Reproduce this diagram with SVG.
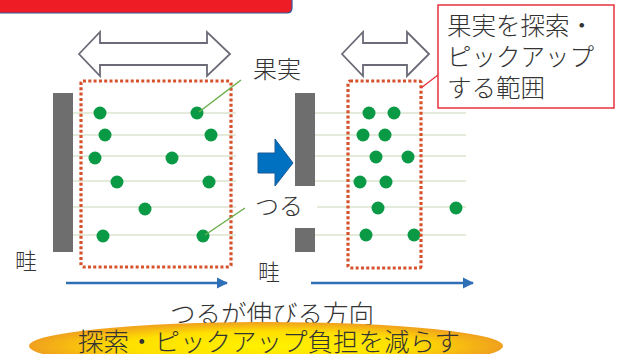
<svg xmlns="http://www.w3.org/2000/svg" width="621" height="354" viewBox="0 0 621 354">
<defs>
<style>
.t{font-family:"Noto Sans CJK JP","Noto Sans",sans-serif;fill:#333;font-weight:300;}
.bar{fill:#6e6e6e;}
.row{stroke:#dde4cf;stroke-width:1.6;}
.dot{fill:#0a9a46;}
.dash{fill:none;stroke:#d6522c;stroke-width:3.2;stroke-dasharray:3 2.3;}
.lead{stroke:#6ab04c;stroke-width:1.5;fill:none;}
.dbl{fill:#fff;stroke:#6b6b78;stroke-width:1.8;stroke-linejoin:miter;}
.flow{stroke:#2e6fb6;stroke-width:2.5;fill:none;}
</style>
<marker id="ah" viewBox="0 0 10 10" refX="9" refY="5" markerWidth="4.5" markerHeight="4.5" orient="auto" markerUnits="strokeWidth">
<path d="M0,0 L10,5 L0,10 z" fill="#2e6fb6"/>
</marker>
<radialGradient id="yg" cx="0.5" cy="0.5" r="0.5">
<stop offset="0" stop-color="#fff200"/>
<stop offset="0.6" stop-color="#ffe000"/>
<stop offset="1" stop-color="#f0a01e"/>
</radialGradient>
</defs>
<rect width="621" height="354" fill="#fff"/>

<g id="banner">
<path d="M-5,-5 H292 V8 Q292,13 287,13 H-5 Z" fill="#ee1c25" stroke="#2d5a9c" stroke-width="1.2"/>
</g>

<g id="left-panel">
<rect class="bar" x="53" y="93" width="20" height="159"/>
<g>
<line class="row" x1="73" y1="113" x2="236" y2="113"/>
<line class="row" x1="73" y1="135" x2="236" y2="135"/>
<line class="row" x1="73" y1="156" x2="236" y2="156"/>
<line class="row" x1="73" y1="181" x2="236" y2="181"/>
<line class="row" x1="73" y1="207" x2="236" y2="207"/>
<line class="row" x1="73" y1="235" x2="236" y2="235"/>
</g>
<g>
<circle class="dot" cx="100" cy="113" r="6.5"/>
<circle class="dot" cx="197" cy="113" r="6.5"/>
<circle class="dot" cx="105" cy="135" r="6.5"/>
<circle class="dot" cx="211" cy="135" r="6.5"/>
<circle class="dot" cx="95" cy="158" r="6.5"/>
<circle class="dot" cx="172" cy="158" r="6.5"/>
<circle class="dot" cx="117" cy="182" r="6.5"/>
<circle class="dot" cx="209" cy="182" r="6.5"/>
<circle class="dot" cx="145" cy="209" r="6.5"/>
<circle class="dot" cx="103" cy="236" r="6.5"/>
<circle class="dot" cx="203" cy="236" r="6.5"/>
</g>
<rect class="dash" x="81" y="81" width="150" height="186" rx="2"/>
<path class="dbl" d="M79,54 L100,32 L100,43 L207,43 L207,32 L230,54 L207,76 L207,65 L100,65 L100,76 Z"/>
</g>

<g id="right-panel">
<rect class="bar" x="295" y="93" width="20" height="159"/>
<g>
<line class="row" x1="315" y1="113" x2="466" y2="113"/>
<line class="row" x1="315" y1="135" x2="466" y2="135"/>
<line class="row" x1="315" y1="156" x2="466" y2="156"/>
<line class="row" x1="315" y1="181" x2="466" y2="181"/>
<line class="row" x1="315" y1="207" x2="466" y2="207"/>
<line class="row" x1="315" y1="235" x2="466" y2="235"/>
</g>
<g>
<circle class="dot" cx="369" cy="113" r="6.5"/>
<circle class="dot" cx="394" cy="113" r="6.5"/>
<circle class="dot" cx="363" cy="135" r="6.5"/>
<circle class="dot" cx="385" cy="135" r="6.5"/>
<circle class="dot" cx="376" cy="157" r="6.5"/>
<circle class="dot" cx="408" cy="157" r="6.5"/>
<circle class="dot" cx="360" cy="182" r="6.5"/>
<circle class="dot" cx="386" cy="182" r="6.5"/>
<circle class="dot" cx="378" cy="208" r="6.5"/>
<circle class="dot" cx="456" cy="208" r="6.5"/>
<circle class="dot" cx="366" cy="235" r="6.5"/>
<circle class="dot" cx="414" cy="235" r="6.5"/>
</g>
<rect class="dash" x="348" y="81" width="73" height="187" rx="2"/>
<path class="dbl" d="M342,54 L363,32 L363,43 L407,43 L407,32 L429,54 L407,76 L407,65 L363,65 L363,76 Z"/>
</g>

<g id="block-arrow">
<path d="M258,153 H275 V139 L293,163 L275,186 V173 H258 Z" fill="#0070c0" stroke="#1b5a96" stroke-width="1"/>
</g>

<g id="connectors">
<line class="lead" x1="199" y1="112" x2="241" y2="80"/>
<line class="lead" x1="205" y1="235" x2="245" y2="208"/>
<line x1="421" y1="88" x2="438" y2="75" stroke="#e8323c" stroke-width="1.3"/>
<line class="flow" x1="66" y1="283" x2="227" y2="283" marker-end="url(#ah)"/>
<line class="flow" x1="311" y1="283" x2="473" y2="283" marker-end="url(#ah)"/>
</g>

<g id="label-kajitsu">
<text class="t" x="253" y="78" font-size="24">果実</text>
</g>

<g id="label-tsuru">
<rect x="245" y="186" width="72" height="42" fill="#fff"/>
<text class="t" x="255" y="215" font-size="24">つる</text>
</g>

<g id="label-aze-left">
<text class="t" x="15" y="269" font-size="22">畦</text>
</g>

<g id="label-aze-right">
<rect x="250" y="255" width="38" height="30" fill="#fff"/>
<text class="t" x="258" y="280" font-size="22">畦</text>
</g>

<g id="callout">
<rect x="438" y="5" width="176" height="103" fill="#fff" stroke="#e8323c" stroke-width="1.5"/>
<text class="t" font-size="24.5">
<tspan x="447" y="35">果実を探索・</tspan>
<tspan x="447" y="66">ピックアップ</tspan>
<tspan x="447" y="97">する範囲</tspan>
</text>
</g>

<g id="label-direction">
<text class="t" x="272" y="323" font-size="25.5" text-anchor="middle">つるが伸びる方向</text>
</g>

<g id="goal">
<ellipse cx="266" cy="346" rx="237" ry="24" fill="url(#yg)"/>
<text class="t" x="269" y="351" font-size="25.5" text-anchor="middle">探索・ピックアップ負担を減らす</text>
</g>
</svg>
